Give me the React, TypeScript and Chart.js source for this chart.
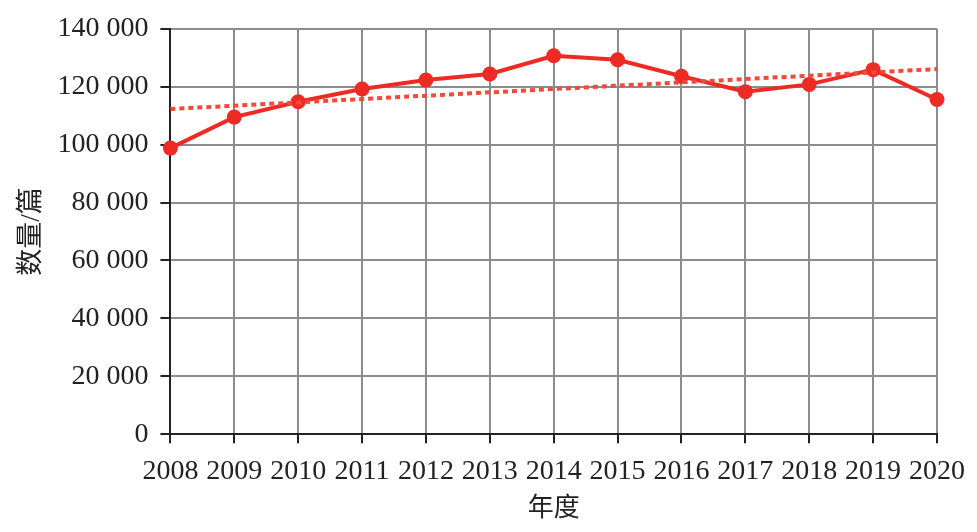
import React, { useEffect, useRef } from "react";
import { Chart, registerables } from "chart.js";

Chart.register(...registerables);

const years = [2008, 2009, 2010, 2011, 2012, 2013, 2014, 2015, 2016, 2017, 2018, 2019, 2020];
const counts = [98800, 109500, 114800, 119200, 122300, 124400, 130700, 129300, 123600, 118300, 120800, 125900, 115600];
const trendYears = [2008, 2020];
const trendValues = [112300, 126100];
const yTicks = [0, 20000, 40000, 60000, 80000, 100000, 120000, 140000];

const FONT = "'Liberation Serif', 'Noto Sans CJK SC', serif";

function fmt(v: number): string {
  const s = String(Math.round(v));
  return s.replace(/\B(?=(\d{3})+(?!\d))/g, " ");
}

export default function App() {
  const ref = useRef<HTMLCanvasElement | null>(null);
  useEffect(() => {
    document.body.style.margin = "0";
    const ctx = ref.current!;
    const chart = new Chart(ctx, {
      type: "line",
      data: {
        datasets: [
          {
            label: "trend",
            data: trendYears.map((x, i) => ({ x, y: trendValues[i] })),
            borderColor: "#F04A3A",
            borderWidth: 4,
            borderDash: [5, 4],
            pointRadius: 0,
            fill: false,
            clip: false,
          },
          {
            label: "数量",
            data: years.map((x, i) => ({ x, y: counts[i] })),
            borderColor: "#EE2A24",
            backgroundColor: "#EE2A24",
            borderWidth: 4,
            pointRadius: 7.5,
            pointBorderWidth: 0,
            fill: false,
            clip: false,
          },
        ],
      },
      options: {
        animation: false,
        responsive: false,
        layout: { padding: { left: 16, right: 34, top: 21, bottom: 7 } },
        plugins: { legend: { display: false }, tooltip: { enabled: false } },
        scales: {
          x: {
            type: "linear",
            min: 2008,
            max: 2020,
            afterBuildTicks: (scale: any) => {
              scale.ticks = years.map((v) => ({ value: v }));
            },
            ticks: {
              callback: (v: any) => String(v),
              color: "#222",
              font: { family: FONT, size: 28 },
              padding: 12,
              maxRotation: 0,
              autoSkip: false,
            },
            grid: { color: "#8c8c8c", lineWidth: 2, tickLength: 9, tickColor: "#222" },
            border: { color: "#222", width: 2 },
            title: {
              display: true,
              text: "年度",
              color: "#222",
              font: { family: FONT, size: 26 },
              padding: { top: -7, bottom: 0 },
            },
          },
          y: {
            min: 0,
            max: 140000,
            afterBuildTicks: (scale: any) => {
              scale.ticks = yTicks.map((v) => ({ value: v }));
            },
            ticks: {
              callback: (v: any) => fmt(Number(v)),
              color: "#222",
              font: { family: FONT, size: 28 },
              padding: 12,
            },
            grid: { color: "#8c8c8c", lineWidth: 2, tickLength: 10, tickColor: "#222" },
            border: { color: "#222", width: 2 },
            title: {
              display: true,
              text: "数量/篇",
              color: "#222",
              font: { family: FONT, size: 27 },
              padding: { top: 0, bottom: -3 },
            },
          },
        },
      },
    } as any);
    return () => chart.destroy();
  }, []);
  return <canvas ref={ref} width={977} height={532} style={{ display: "block" }} />;
}
